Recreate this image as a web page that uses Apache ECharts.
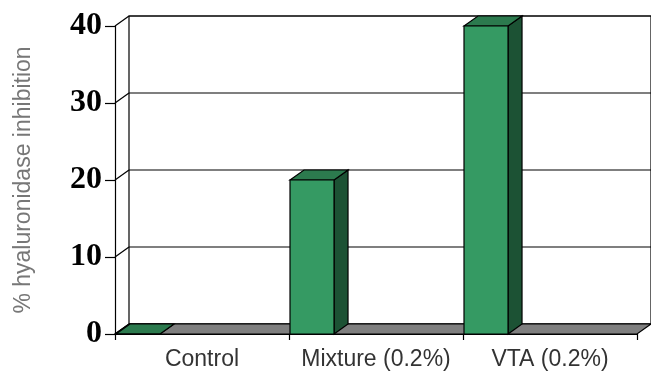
<!DOCTYPE html>
<html><head><meta charset="utf-8">
<script src="https://cdn.jsdelivr.net/npm/echarts@6/dist/echarts.min.js"></script>
<style>html,body{margin:0;padding:0;background:#fff}#c{width:651px;height:371px}</style>
</head><body><div id="c"></div>
<script>
const categories = ['Control', 'Mixture (0.2%)', 'VTA (0.2%)'];
const values = [0, 20, 40];
const yTicks = [0, 10, 20, 30, 40];
const yTitle = '% hyaluronidase inhibition';

const DX = 14, DY = -10;
const BAR_FRAC = 0.253;

const chart = echarts.init(document.getElementById('c'), null, {renderer: 'canvas'});

function frameRender(params, api) {
  const children = [];
  const bw = api.size([1, 0])[0];
  const n = categories.length;
  const left = api.coord([0, 0])[0] - bw / 2;
  const right = left + bw * n;
  const y0 = api.coord([0, 0])[1];
  const yTop = api.coord([0, yTicks[yTicks.length - 1]])[1];
  children.push({type: 'rect', shape: {x: left + DX, y: yTop + DY, width: right - left, height: y0 - yTop},
    style: {fill: '#fff', stroke: '#000', lineWidth: 1.2}});
  yTicks.forEach(t => {
    const y = api.coord([0, t])[1];
    children.push({type: 'line', shape: {x1: left + DX, y1: y + DY, x2: right + DX, y2: y + DY}, style: {stroke: '#000', lineWidth: 1.2}});
    children.push({type: 'line', shape: {x1: left, y1: y, x2: left + DX, y2: y + DY}, style: {stroke: '#000', lineWidth: 1.2}});
  });
  children.push({type: 'polygon', shape: {points: [[left, y0], [right, y0], [right + DX, y0 + DY], [left + DX, y0 + DY]]},
    style: {fill: '#7f7f7f', stroke: '#000', lineWidth: 1.2}});
  return {type: 'group', children};
}

function barRender(params, api) {
  const cat = api.value(0), v = api.value(1);
  const bw = api.size([1, 0])[0];
  const c = api.coord([cat, v]);
  const base = api.coord([cat, 0]);
  const x0 = c[0] - bw / 2 + 1;
  const w = bw * BAR_FRAC;
  const yt = c[1], yb = base[1];
  const st = {stroke: '#000', lineWidth: 1.2};
  return {type: 'group', children: [
    {type: 'polygon', shape: {points: [[x0 + w, yt], [x0 + w + DX, yt + DY], [x0 + w + DX, yb + DY], [x0 + w, yb]]},
      style: Object.assign({fill: '#1c5234'}, st)},
    {type: 'polygon', shape: {points: [[x0, yt], [x0 + DX, yt + DY], [x0 + w + DX, yt + DY], [x0 + w, yt]]},
      style: Object.assign({fill: '#2c7a4e'}, st)},
    {type: 'rect', shape: {x: x0, y: yt, width: w, height: yb - yt},
      style: Object.assign({fill: '#359a63'}, st)}
  ]};
}

chart.setOption({
  animation: false,
  backgroundColor: '#fff',
  grid: {left: 115, right: 14, top: 26, bottom: 35},
  xAxis: {
    type: 'category', data: categories, z: 5,
    axisLine: {show: true, lineStyle: {color: '#000', width: 1.2}},
    axisTick: {show: true, alignWithLabel: false, length: 6, lineStyle: {color: '#000', width: 1.2}},
    axisLabel: {color: '#333', fontSize: 23, fontFamily: 'Liberation Sans', margin: 14, interval: 0, hideOverlap: false},
    splitLine: {show: false}
  },
  yAxis: {
    type: 'value', min: 0, max: 40, interval: 10, z: 5,
    name: yTitle, nameLocation: 'middle', nameGap: 80,
    nameTextStyle: {color: '#777', fontSize: 23, fontFamily: 'Liberation Sans'},
    axisLine: {show: true, lineStyle: {color: '#000', width: 1.2}},
    axisTick: {show: true, length: 10, lineStyle: {color: '#000', width: 1.2}},
    axisLabel: {color: '#000', fontSize: 32, fontWeight: 'bold', fontFamily: 'Liberation Serif', margin: 13},
    splitLine: {show: false}
  },
  series: [
    {type: 'custom', z: 1, renderItem: frameRender, data: [[0, 0]], silent: true},
    {type: 'custom', z: 2, renderItem: barRender, data: categories.map((c, i) => [i, values[i]])}
  ]
});
</script></body></html>
